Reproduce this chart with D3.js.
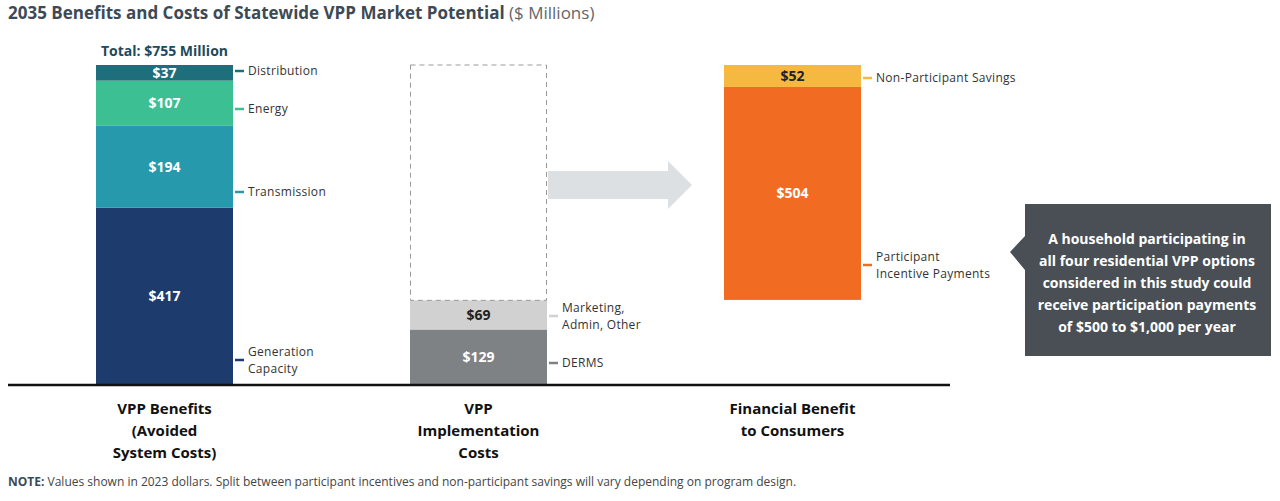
<!DOCTYPE html><html><head><meta charset="utf-8"><script src="https://cdn.jsdelivr.net/npm/d3@7"></script>
<style>body{margin:0;background:#fff;font-family:"Open Sans",sans-serif}</style></head><body><svg id="c" width="1280" height="501"></svg>
<script>
const categories=["VPP Benefits|(Avoided|System Costs)","VPP|Implementation|Costs","Financial Benefit|to Consumers"];
const benefitNames=["Generation|Capacity","Transmission","Energy","Distribution"];
const benefitValues=[417,194,107,37];
const benefitColors=["#1d3b6c","#2699ad","#3dbf94","#1e6f7b"];
const costNames=["DERMS","Marketing,|Admin, Other"];
const costValues=[129,69];
const costColors=["#7f8285","#d1d1d1"];
const consumerNames=["Participant|Incentive Payments","Non-Participant Savings"];
const consumerValues=[504,52];
const consumerColors=["#f26b22","#f5b942"];
const total=755;
const svg=d3.select("#c");
const y=d3.scaleLinear().domain([0,total]).range([384,65]);
const x=d3.scaleBand().domain(categories).range([20,935]).paddingInner(0.55).paddingOuter(0.05);
const bw=137;
const cx=[164.5,478.5,792.5];
function stack(ci,names,vals,cols,base,labelDy){
  let acc=base;
  vals.forEach((v,i)=>{
    const y0=y(acc),y1=y(acc+v);acc+=v;
    const xl=cx[ci]-bw/2;
    svg.append("rect").attr("x",xl).attr("y",y1).attr("width",bw).attr("height",y0-y1).attr("fill",cols[i]);
    const dark=cols[i]=="#d1d1d1"||cols[i]=="#f5b942";
    svg.append("text").attr("x",cx[ci]).attr("y",(y0+y1)/2+5).attr("text-anchor","middle").attr("font-size",14).attr("font-weight","bold").attr("fill",dark?"#222":"#fff").text("$"+v);
    const ly=labelDy[i];
    svg.append("line").attr("x1",xl+bw+2).attr("x2",xl+bw+11).attr("y1",ly).attr("y2",ly).attr("stroke",cols[i]).attr("stroke-width",2.5);
    const ls=names[i].split("|");
    ls.forEach((s,k)=>svg.append("text").attr("x",xl+bw+15).attr("y",ly+4+(k-(ls.length-1)/2)*17).attr("font-size",12).attr("fill","#333").attr("letter-spacing","0.3").text(s));
  });
  return acc;
}
stack(0,benefitNames,benefitValues,benefitColors,0,[360,192,109,71]);
const cTop=stack(1,costNames,costValues,costColors,0,[363,316]);
svg.append("rect").attr("x",cx[1]-bw/2+0.5).attr("y",y(total)).attr("width",bw-1).attr("height",y(cTop)-y(total)).attr("fill","none").attr("stroke","#999").attr("stroke-dasharray","5,4");
stack(2,consumerNames,consumerValues,consumerColors,total-consumerValues[0]-consumerValues[1],[265,78]);
svg.append("text").attr("x",cx[0]).attr("y",56).attr("text-anchor","middle").attr("font-size",14).attr("font-weight","bold").attr("fill","#1e4a5c").text("Total: $"+total+" Million");
// arrow
svg.append("path").attr("d","M548,171 L668,171 L668,161 L692,185 L668,209 L668,199 L548,199Z").attr("fill","#dde0e3");
svg.append("line").attr("x1",8).attr("x2",950).attr("y1",385).attr("y2",385).attr("stroke","#111").attr("stroke-width",2.5);
categories.forEach((c,i)=>c.split("|").forEach((s,k)=>svg.append("text").attr("x",cx[i]).attr("y",414+k*22).attr("text-anchor","middle").attr("font-size",15).attr("font-weight","bold").attr("fill","#111").text(s)));
// callout
svg.append("path").attr("d","M1025,204 L1271,204 L1271,356 L1025,356 L1025,270 L1010,252 L1025,236Z").attr("fill","#4a4f56");
["A household participating in","all four residential VPP options","considered in this study could","receive participation payments","of $500 to $1,000 per year"].forEach((s,k)=>svg.append("text").attr("x",1147).attr("y",244+k*22).attr("text-anchor","middle").attr("font-size",14).attr("font-weight","bold").attr("fill","#fff").text(s));
const t=svg.append("text").attr("x",8).attr("y",19).attr("font-size",17).attr("fill","#3d4a55");
t.append("tspan").attr("font-weight","bold").text("2035 Benefits and Costs of Statewide VPP Market Potential");
t.append("tspan").attr("fill","#666").text(" ($ Millions)");
const n=svg.append("text").attr("x",8).attr("y",486).attr("font-size",12).attr("fill","#444");
n.append("tspan").attr("font-weight","bold").attr("fill","#3d4a55").text("NOTE:");
n.append("tspan").text(" Values shown in 2023 dollars. Split between participant incentives and non-participant savings will vary depending on program design.");
</script></body></html>
